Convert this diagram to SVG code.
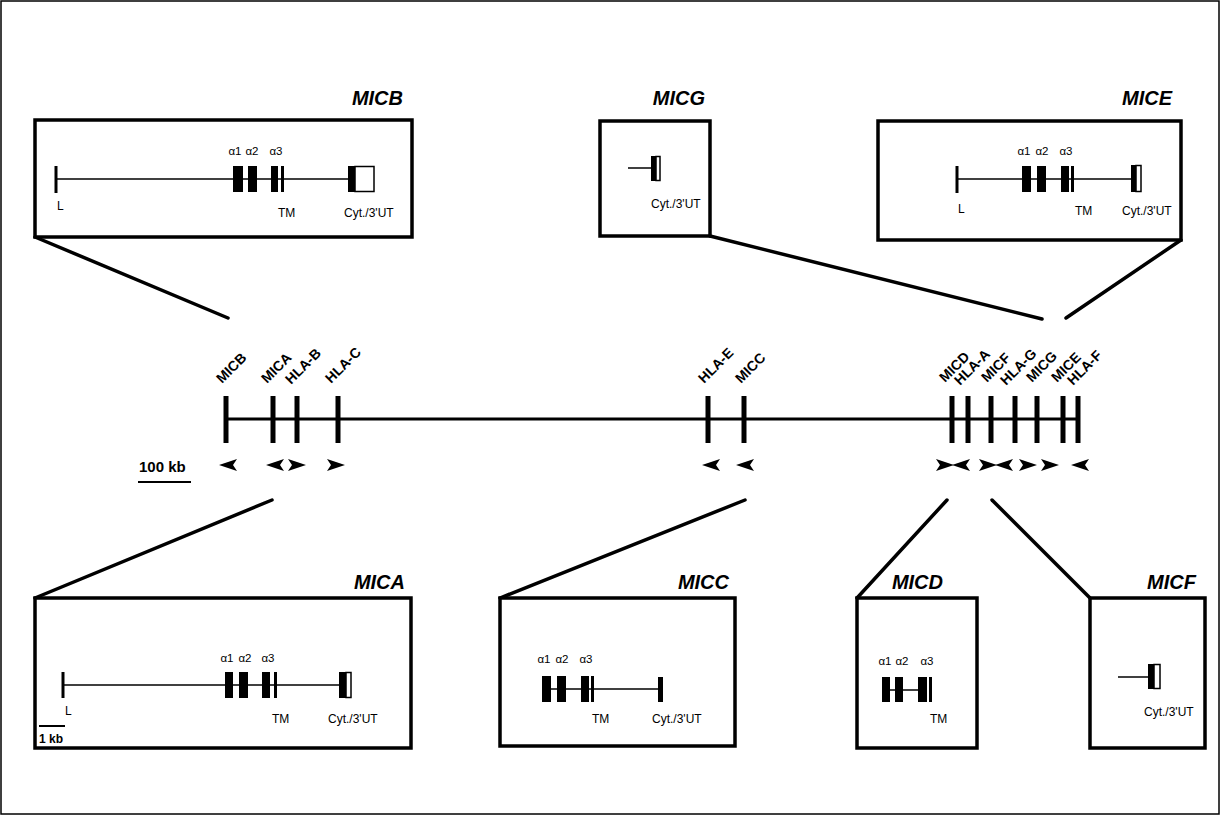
<svg xmlns="http://www.w3.org/2000/svg" xmlns:xlink="http://www.w3.org/1999/xlink" width="1221" height="816" viewBox="0 0 1221 816">
<style>
.frame{fill:none;stroke:#000;stroke-width:1.5}
.box{fill:#fff;stroke:#000;stroke-width:3.5}
.conn{stroke:#000;stroke-width:3.5;stroke-linecap:round;fill:none}
.bb{stroke:#000;stroke-width:1.5;fill:none}
.ex{fill:#000}
.open{fill:#fff;stroke:#000;stroke-width:1.5}
.lbar{stroke:#000;stroke-width:3}
.title{font-family:"Liberation Sans",Arial,sans-serif;font-weight:bold;font-style:italic;font-size:20px;text-anchor:end}
.sm{font-family:"Liberation Sans",Arial,sans-serif;font-size:12px}
.al{font-family:"Liberation Sans",Arial,sans-serif;font-size:11.5px;text-anchor:middle}
.gene{font-family:"Liberation Sans",Arial,sans-serif;font-size:14px;font-weight:bold}
.tick{stroke:#000;stroke-width:5}
.chrom{stroke:#000;stroke-width:3}
.scale{font-family:"Liberation Sans",Arial,sans-serif;font-size:15px;font-weight:bold}
</style>
<defs>
<path id="al" d="M-9,0 L9,-6 L5,0 L9,6 Z" fill="#000"/>
<path id="ar" d="M9,0 L-9,-6 L-5,0 L-9,6 Z" fill="#000"/>
</defs>
<rect class="frame" x="1" y="1" width="1218" height="813" fill="#fff"/>

<g id="connectors">
<line class="conn" x1="35" y1="237" x2="228" y2="318"/>
<line class="conn" x1="710" y1="236" x2="1042" y2="319"/>
<line class="conn" x1="1181" y1="240" x2="1066" y2="318"/>
<line class="conn" x1="272" y1="500" x2="35" y2="598"/>
<line class="conn" x1="745" y1="500" x2="500" y2="598"/>
<line class="conn" x1="947" y1="500" x2="857" y2="598"/>
<line class="conn" x1="992" y1="500" x2="1090" y2="598"/>
</g>

<g id="chromosome">
<line class="chrom" x1="226" y1="419" x2="1078" y2="419"/>
<line class="tick" x1="226" y1="396" x2="226" y2="443"/>
<line class="tick" x1="273" y1="396" x2="273" y2="443"/>
<line class="tick" x1="297" y1="396" x2="297" y2="443"/>
<line class="tick" x1="338" y1="396" x2="338" y2="443"/>
<line class="tick" x1="708" y1="396" x2="708" y2="443"/>
<line class="tick" x1="744" y1="396" x2="744" y2="443"/>
<line class="tick" x1="952" y1="396" x2="952" y2="443"/>
<line class="tick" x1="968" y1="396" x2="968" y2="443"/>
<line class="tick" x1="991" y1="396" x2="991" y2="443"/>
<line class="tick" x1="1015" y1="396" x2="1015" y2="443"/>
<line class="tick" x1="1037" y1="396" x2="1037" y2="443"/>
<line class="tick" x1="1063" y1="396" x2="1063" y2="443"/>
<line class="tick" x1="1078" y1="396" x2="1078" y2="443"/>
<text class="gene" x="222" y="384" transform="rotate(-45 222 384)">MICB</text>
<text class="gene" x="267" y="384" transform="rotate(-45 267 384)">MICA</text>
<text class="gene" x="291" y="385" transform="rotate(-45 291 385)">HLA-B</text>
<text class="gene" x="331" y="384" transform="rotate(-45 331 384)">HLA-C</text>
<text class="gene" x="704" y="384" transform="rotate(-45 704 384)">HLA-E</text>
<text class="gene" x="741" y="384" transform="rotate(-45 741 384)">MICC</text>
<text class="gene" x="945" y="383" transform="rotate(-45 945 383)">MICD</text>
<text class="gene" x="960" y="386" transform="rotate(-45 960 386)">HLA-A</text>
<text class="gene" x="987" y="383" transform="rotate(-45 987 383)">MICF</text>
<text class="gene" x="1006" y="386" transform="rotate(-45 1006 386)">HLA-G</text>
<text class="gene" x="1032" y="383" transform="rotate(-45 1032 383)">MICG</text>
<text class="gene" x="1057" y="383" transform="rotate(-45 1057 383)">MICE</text>
<text class="gene" x="1073" y="386" transform="rotate(-45 1073 386)">HLA-F</text>
<use xlink:href="#al" x="228" y="465"/>
<use xlink:href="#al" x="275" y="465"/>
<use xlink:href="#ar" x="297" y="465"/>
<use xlink:href="#ar" x="336" y="465"/>
<use xlink:href="#al" x="711" y="465"/>
<use xlink:href="#al" x="745" y="465"/>
<use xlink:href="#ar" x="945" y="465"/>
<use xlink:href="#al" x="961" y="465"/>
<use xlink:href="#ar" x="988" y="465"/>
<use xlink:href="#al" x="1004" y="465"/>
<use xlink:href="#ar" x="1028" y="465"/>
<use xlink:href="#ar" x="1050" y="465"/>
<use xlink:href="#al" x="1080" y="465"/>
<text class="scale" x="139" y="472">100 kb</text>
<line x1="138" y1="482" x2="191" y2="482" stroke="#000" stroke-width="2"/>
</g>

<g id="MICB">
<rect class="box" x="35" y="120" width="377" height="117"/>
<text class="title" x="403" y="105">MICB</text>
<line class="bb" x1="56" y1="179" x2="350" y2="179"/>
<line class="lbar" x1="56" y1="166" x2="56" y2="193"/>
<rect class="ex" x="233" y="166" width="10" height="26"/>
<rect class="ex" x="248" y="166" width="9" height="26"/>
<rect class="ex" x="271" y="166" width="7" height="26"/>
<rect class="ex" x="281" y="166" width="3" height="26"/>
<rect class="ex" x="348" y="166" width="7" height="26"/>
<rect class="open" x="355" y="166.5" width="19" height="25"/>
<text class="al" x="235" y="155">α1</text>
<text class="al" x="252" y="155">α2</text>
<text class="al" x="276" y="155">α3</text>
<text class="sm" x="57" y="210">L</text>
<text class="sm" x="278" y="217">TM</text>
<text class="sm" x="344" y="217">Cyt./3'UT</text>
</g>

<g id="MICG">
<rect class="box" x="600" y="121" width="110" height="115"/>
<text class="title" x="705" y="105">MICG</text>
<line class="bb" x1="628" y1="168" x2="651" y2="168"/>
<rect class="ex" x="651" y="156" width="5" height="25"/>
<rect class="open" x="656" y="156.5" width="4" height="24"/>
<text class="sm" x="651" y="208">Cyt./3'UT</text>
</g>

<g id="MICE">
<rect class="box" x="878" y="121" width="303" height="119"/>
<text class="title" x="1172" y="105">MICE</text>
<line class="bb" x1="957" y1="179" x2="1132" y2="179"/>
<line class="lbar" x1="957" y1="166" x2="957" y2="193"/>
<rect class="ex" x="1022" y="166" width="9" height="26"/>
<rect class="ex" x="1037" y="166" width="9" height="26"/>
<rect class="ex" x="1061" y="166" width="8" height="26"/>
<rect class="ex" x="1071" y="166" width="3" height="26"/>
<rect class="ex" x="1131" y="165" width="5" height="27"/>
<rect class="open" x="1136" y="165.5" width="5" height="26"/>
<text class="al" x="1024" y="155">α1</text>
<text class="al" x="1042" y="155">α2</text>
<text class="al" x="1066" y="155">α3</text>
<text class="sm" x="958" y="213">L</text>
<text class="sm" x="1075" y="215">TM</text>
<text class="sm" x="1122" y="215">Cyt./3'UT</text>
</g>

<g id="MICA">
<rect class="box" x="35" y="598" width="376" height="150"/>
<text class="title" x="405" y="589">MICA</text>
<line class="bb" x1="63" y1="685" x2="343" y2="685"/>
<line class="lbar" x1="63" y1="672" x2="63" y2="698"/>
<rect class="ex" x="225" y="672" width="8" height="26"/>
<rect class="ex" x="239" y="672" width="9" height="26"/>
<rect class="ex" x="262" y="672" width="8" height="26"/>
<rect class="ex" x="274" y="672" width="3" height="26"/>
<rect class="ex" x="339" y="672" width="7" height="26"/>
<rect class="open" x="346" y="672.5" width="5" height="25"/>
<text class="al" x="227" y="662">α1</text>
<text class="al" x="245" y="662">α2</text>
<text class="al" x="268" y="662">α3</text>
<text class="sm" x="65" y="715">L</text>
<text class="sm" x="272" y="723">TM</text>
<text class="sm" x="328" y="723">Cyt./3'UT</text>
<line x1="39" y1="726" x2="65" y2="726" stroke="#000" stroke-width="2"/>
<text class="sm" x="39" y="743" font-weight="bold">1 kb</text>
</g>

<g id="MICC">
<rect class="box" x="500" y="598" width="235" height="148"/>
<text class="title" x="729" y="589">MICC</text>
<line class="bb" x1="546" y1="689" x2="660" y2="689"/>
<rect class="ex" x="542" y="676" width="9" height="26"/>
<rect class="ex" x="557" y="676" width="9" height="26"/>
<rect class="ex" x="581" y="676" width="8" height="26"/>
<rect class="ex" x="591" y="676" width="3" height="26"/>
<rect class="ex" x="658" y="677" width="5" height="25"/>
<text class="al" x="544" y="663">α1</text>
<text class="al" x="562" y="663">α2</text>
<text class="al" x="586" y="663">α3</text>
<text class="sm" x="592" y="723">TM</text>
<text class="sm" x="652" y="723">Cyt./3'UT</text>
</g>

<g id="MICD">
<rect class="box" x="857" y="598" width="120" height="150"/>
<text class="title" x="943" y="589">MICD</text>
<line class="bb" x1="886" y1="690" x2="925" y2="690"/>
<rect class="ex" x="882" y="677" width="8" height="25"/>
<rect class="ex" x="895" y="677" width="8" height="25"/>
<rect class="ex" x="918" y="677" width="9" height="25"/>
<rect class="ex" x="929" y="677" width="3" height="25"/>
<text class="al" x="885" y="665">α1</text>
<text class="al" x="902" y="665">α2</text>
<text class="al" x="927" y="665">α3</text>
<text class="sm" x="930" y="723">TM</text>
</g>

<g id="MICF">
<rect class="box" x="1090" y="598" width="115" height="150"/>
<text class="title" x="1196" y="589">MICF</text>
<line class="bb" x1="1118" y1="677" x2="1150" y2="677"/>
<rect class="ex" x="1148" y="664" width="6" height="25"/>
<rect class="open" x="1154" y="664.5" width="6" height="24"/>
<text class="sm" x="1144" y="716">Cyt./3'UT</text>
</g>
</svg>
